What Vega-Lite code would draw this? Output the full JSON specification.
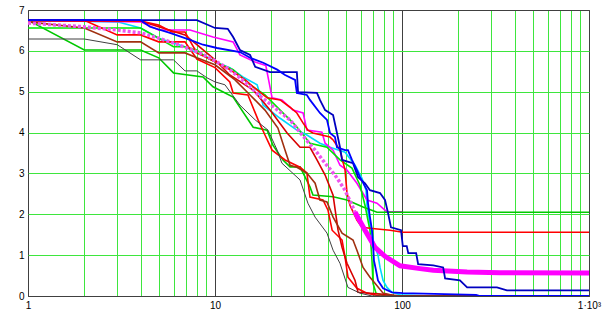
{
  "$schema": "https://vega.github.io/schema/vega-lite/v6.json",
  "width": 561,
  "height": 286,
  "autosize": "none",
  "padding": {"left": 28, "top": 10, "right": 15, "bottom": 20},
  "background": "white",
  "config": {"view": {"stroke": "#404040", "strokeWidth": 1}},
  "data": {"values": [
    {"s":"b1","x":1,"y":6.75},{"s":"b1","x":8,"y":6.75},{"s":"b1","x":10,"y":6.56},{"s":"b1","x":11.7,"y":6.54},{"s":"b1","x":12.5,"y":6.34},{"s":"b1","x":13.6,"y":6.02},{"s":"b1","x":15.4,"y":5.9},{"s":"b1","x":16.4,"y":5.61},{"s":"b1","x":19.7,"y":5.48},{"s":"b1","x":27.4,"y":5.48},{"s":"b1","x":27.8,"y":4.99},{"s":"b1","x":35.1,"y":4.97},{"s":"b1","x":36.4,"y":4.8},{"s":"b1","x":38.8,"y":4.55},{"s":"b1","x":42.8,"y":4.43},{"s":"b1","x":44.9,"y":3.99},{"s":"b1","x":46.6,"y":3.64},{"s":"b1","x":47.8,"y":3.33},{"s":"b1","x":54.7,"y":3.25},{"s":"b1","x":58.2,"y":2.91},{"s":"b1","x":63.4,"y":2.76},{"s":"b1","x":67.4,"y":2.59},{"s":"b1","x":76.3,"y":2.52},{"s":"b1","x":81.1,"y":2.35},{"s":"b1","x":84.2,"y":2.03},{"s":"b1","x":87.3,"y":1.68},{"s":"b1","x":98.8,"y":1.61},{"s":"b1","x":101,"y":1.22},{"s":"b1","x":106,"y":1.22},{"s":"b1","x":108,"y":1.05},{"s":"b1","x":119,"y":1.05},{"s":"b1","x":122,"y":0.78},{"s":"b1","x":147,"y":0.75},{"s":"b1","x":166,"y":0.7},{"s":"b1","x":170,"y":0.43},{"s":"b1","x":204,"y":0.38},{"s":"b1","x":223,"y":0.21},{"s":"b1","x":322,"y":0.21},{"s":"b1","x":364,"y":0.14},{"s":"b1","x":1000,"y":0.14},

    {"s":"b2","x":1,"y":6.75},{"s":"b2","x":4,"y":6.75},{"s":"b2","x":4.49,"y":6.59},{"s":"b2","x":5.74,"y":6.44},{"s":"b2","x":7.35,"y":6.27},{"s":"b2","x":8.63,"y":6.15},{"s":"b2","x":10.25,"y":6.07},{"s":"b2","x":13.6,"y":5.97},{"s":"b2","x":15.4,"y":5.83},{"s":"b2","x":18.1,"y":5.71},{"s":"b2","x":21.5,"y":5.54},{"s":"b2","x":23.7,"y":5.41},{"s":"b2","x":26.8,"y":5.29},{"s":"b2","x":27.4,"y":4.97},{"s":"b2","x":31,"y":4.92},{"s":"b2","x":32.2,"y":4.8},{"s":"b2","x":36.4,"y":4.48},{"s":"b2","x":39.7,"y":4.31},{"s":"b2","x":41.2,"y":3.99},{"s":"b2","x":43.8,"y":3.89},{"s":"b2","x":44.9,"y":3.64},{"s":"b2","x":49.6,"y":3.57},{"s":"b2","x":51.4,"y":3.57},{"s":"b2","x":54,"y":3.33},{"s":"b2","x":57.4,"y":3.08},{"s":"b2","x":59.6,"y":2.91},{"s":"b2","x":65,"y":2.59},{"s":"b2","x":65.8,"y":2.27},{"s":"b2","x":67.4,"y":1.93},{"s":"b2","x":69.1,"y":1.61},{"s":"b2","x":70,"y":1.29},{"s":"b2","x":70.8,"y":0.87},{"s":"b2","x":72.6,"y":0.63},{"s":"b2","x":74.4,"y":0.38},{"s":"b2","x":79.2,"y":0.19},{"s":"b2","x":88.4,"y":0.09},{"s":"b2","x":101,"y":0.07},{"s":"b2","x":249,"y":0.03},{"s":"b2","x":261,"y":0},{"s":"b2","x":1000,"y":0},

    {"s":"cy","x":1,"y":6.75},{"s":"cy","x":3,"y":6.71},{"s":"cy","x":4,"y":6.56},{"s":"cy","x":5,"y":6.31},{"s":"cy","x":6,"y":6.19},{"s":"cy","x":6.91,"y":6.1},{"s":"cy","x":8,"y":5.95},{"s":"cy","x":9.06,"y":5.85},{"s":"cy","x":10.25,"y":5.71},{"s":"cy","x":12,"y":5.59},{"s":"cy","x":14.1,"y":5.36},{"s":"cy","x":16.8,"y":5.17},{"s":"cy","x":18.1,"y":4.67},{"s":"cy","x":22.3,"y":4.35},{"s":"cy","x":27.4,"y":4.06},{"s":"cy","x":31,"y":3.94},{"s":"cy","x":36.4,"y":3.74},{"s":"cy","x":41.2,"y":3.64},{"s":"cy","x":49.6,"y":3.52},{"s":"cy","x":56.1,"y":3.2},{"s":"cy","x":61.1,"y":2.88},{"s":"cy","x":64.2,"y":2.59},{"s":"cy","x":65,"y":2.22},{"s":"cy","x":67.4,"y":1.78},{"s":"cy","x":70,"y":1.37},{"s":"cy","x":74.4,"y":1.0},{"s":"cy","x":76.3,"y":0.7},{"s":"cy","x":79.2,"y":0.38},{"s":"cy","x":83.1,"y":0.21},{"s":"cy","x":88.4,"y":0.09},{"s":"cy","x":97.6,"y":0.03},{"s":"cy","x":141,"y":0},{"s":"cy","x":1000,"y":0},

    {"s":"mthin","x":1,"y":6.75},{"s":"mthin","x":4,"y":6.71},{"s":"mthin","x":5,"y":6.51},{"s":"mthin","x":7.35,"y":6.51},{"s":"mthin","x":9.76,"y":6.34},{"s":"mthin","x":12.5,"y":6.22},{"s":"mthin","x":13.6,"y":5.9},{"s":"mthin","x":16.4,"y":5.73},{"s":"mthin","x":18.7,"y":5.64},{"s":"mthin","x":20.2,"y":4.85},{"s":"mthin","x":22.8,"y":4.8},{"s":"mthin","x":26.1,"y":4.55},{"s":"mthin","x":29.6,"y":4.48},{"s":"mthin","x":31,"y":4.06},{"s":"mthin","x":37.3,"y":4.01},{"s":"mthin","x":38.8,"y":3.74},{"s":"mthin","x":42.8,"y":3.57},{"s":"mthin","x":46.6,"y":3.2},{"s":"mthin","x":50.8,"y":3.08},{"s":"mthin","x":57.4,"y":2.76},{"s":"mthin","x":65,"y":2.35},{"s":"mthin","x":73.5,"y":2.27},{"s":"mthin","x":83.1,"y":2.06},{"s":"mthin","x":100,"y":2.06},

    {"s":"g2","x":1,"y":6.75},{"s":"g2","x":2,"y":6.02},{"s":"g2","x":4,"y":6.02},{"s":"g2","x":5,"y":5.83},{"s":"g2","x":6,"y":5.46},{"s":"g2","x":8.63,"y":5.36},{"s":"g2","x":9.76,"y":5.12},{"s":"g2","x":12.5,"y":4.87},{"s":"g2","x":16,"y":4.13},{"s":"g2","x":19,"y":4.06},{"s":"g2","x":20.4,"y":3.69},{"s":"g2","x":23.1,"y":3.33},{"s":"g2","x":25.2,"y":3.16},{"s":"g2","x":28.5,"y":3.16},{"s":"g2","x":32.2,"y":2.67},{"s":"g2","x":33.4,"y":2.47},{"s":"g2","x":42.8,"y":2.43},{"s":"g2","x":50.8,"y":2.35},{"s":"g2","x":61.9,"y":2.18},{"s":"g2","x":73.5,"y":2.05},{"s":"g2","x":1000,"y":2.05},

    {"s":"g1","x":1,"y":6.56},{"s":"g1","x":4,"y":6.56},{"s":"g1","x":5,"y":6.31},{"s":"g1","x":6,"y":6.1},{"s":"g1","x":6.91,"y":6.1},{"s":"g1","x":8,"y":6.02},{"s":"g1","x":9.06,"y":5.83},{"s":"g1","x":10.25,"y":5.71},{"s":"g1","x":12.5,"y":5.54},{"s":"g1","x":15.4,"y":5.17},{"s":"g1","x":18.5,"y":4.92},{"s":"g1","x":22.3,"y":4.55},{"s":"g1","x":26.8,"y":4.19},{"s":"g1","x":32.2,"y":3.74},{"s":"g1","x":39.7,"y":3.64},{"s":"g1","x":46.6,"y":3.33},{"s":"g1","x":54,"y":3.13},{"s":"g1","x":59.6,"y":2.71},{"s":"g1","x":63.4,"y":2.22},{"s":"g1","x":67.4,"y":1.61},{"s":"g1","x":69.1,"y":0.87},{"s":"g1","x":70,"y":0.31},{"s":"g1","x":72.6,"y":0.07},{"s":"g1","x":81.1,"y":0},{"s":"g1","x":1000,"y":0},

    {"s":"gray","x":1,"y":6.29},{"s":"gray","x":2,"y":6.29},{"s":"gray","x":3,"y":6.15},{"s":"gray","x":4,"y":5.78},{"s":"gray","x":6,"y":5.78},{"s":"gray","x":6.91,"y":5.51},{"s":"gray","x":8,"y":5.51},{"s":"gray","x":9.06,"y":5.34},{"s":"gray","x":10,"y":5.24},{"s":"gray","x":11.3,"y":5.17},{"s":"gray","x":13.6,"y":4.67},{"s":"gray","x":16.4,"y":4.31},{"s":"gray","x":19.2,"y":4.06},{"s":"gray","x":21.5,"y":3.57},{"s":"gray","x":22.8,"y":3.25},{"s":"gray","x":28.5,"y":2.84},{"s":"gray","x":31.4,"y":2.27},{"s":"gray","x":34.3,"y":1.93},{"s":"gray","x":39.7,"y":1.54},{"s":"gray","x":42.8,"y":1.12},{"s":"gray","x":46.6,"y":0.8},{"s":"gray","x":51.4,"y":0.21},{"s":"gray","x":59.6,"y":0.07},{"s":"gray","x":69.1,"y":0},{"s":"gray","x":1000,"y":0},

    {"s":"rA","x":1,"y":6.75},{"s":"rA","x":2,"y":6.75},{"s":"rA","x":3,"y":6.39},{"s":"rA","x":4,"y":6.39},{"s":"rA","x":5,"y":6.22},{"s":"rA","x":6.91,"y":6.22},{"s":"rA","x":8,"y":5.8},{"s":"rA","x":10,"y":5.59},{"s":"rA","x":12,"y":5.24},{"s":"rA","x":12.5,"y":4.97},{"s":"rA","x":15,"y":4.92},{"s":"rA","x":17,"y":4.31},{"s":"rA","x":18.5,"y":3.94},{"s":"rA","x":20.2,"y":3.57},{"s":"rA","x":23.7,"y":3.33},{"s":"rA","x":28.5,"y":3.15},{"s":"rA","x":31,"y":3.01},{"s":"rA","x":32.2,"y":2.42},{"s":"rA","x":37.8,"y":2.35},{"s":"rA","x":40.2,"y":2.1},{"s":"rA","x":42.3,"y":1.61},{"s":"rA","x":47.8,"y":1.37},{"s":"rA","x":49.6,"y":0.95},{"s":"rA","x":51.4,"y":0.46},{"s":"rA","x":57.4,"y":0.19},{"s":"rA","x":65,"y":0.07},{"s":"rA","x":76.3,"y":0},{"s":"rA","x":1000,"y":0},

    {"s":"rB","x":1,"y":6.73},{"s":"rB","x":4,"y":6.73},{"s":"rB","x":5,"y":6.59},{"s":"rB","x":6.91,"y":6.39},{"s":"rB","x":8,"y":6.15},{"s":"rB","x":10,"y":5.78},{"s":"rB","x":12,"y":5.41},{"s":"rB","x":16,"y":5.04},{"s":"rB","x":19.7,"y":4.55},{"s":"rB","x":24.3,"y":3.99},{"s":"rB","x":28.5,"y":3.64},{"s":"rB","x":32.2,"y":3.64},{"s":"rB","x":35.1,"y":3.33},{"s":"rB","x":38.8,"y":2.96},{"s":"rB","x":42.8,"y":2.47},{"s":"rB","x":45.5,"y":1.61},{"s":"rB","x":47.8,"y":1.19},{"s":"rB","x":50.8,"y":0.8},{"s":"rB","x":56.1,"y":0.38},{"s":"rB","x":58.2,"y":0.09},{"s":"rB","x":86.3,"y":0.03},{"s":"rB","x":97.6,"y":0},{"s":"rB","x":1000,"y":0},

    {"s":"r155","x":1,"y":6.75},{"s":"r155","x":4,"y":6.73},{"s":"r155","x":5,"y":6.63},{"s":"r155","x":5.89,"y":6.46},{"s":"r155","x":6.91,"y":6.46},{"s":"r155","x":8,"y":5.95},{"s":"r155","x":9.06,"y":5.83},{"s":"r155","x":10,"y":5.73},{"s":"r155","x":12,"y":5.54},{"s":"r155","x":14.5,"y":5.29},{"s":"r155","x":16,"y":5.12},{"s":"r155","x":19,"y":4.85},{"s":"r155","x":22.3,"y":4.8},{"s":"r155","x":25.2,"y":4.62},{"s":"r155","x":27.4,"y":4.48},{"s":"r155","x":29.6,"y":4.23},{"s":"r155","x":31.4,"y":4.06},{"s":"r155","x":33.4,"y":3.99},{"s":"r155","x":41.2,"y":3.89},{"s":"r155","x":42.8,"y":3.82},{"s":"r155","x":46.6,"y":3.57},{"s":"r155","x":49.6,"y":3.08},{"s":"r155","x":50.8,"y":2.52},{"s":"r155","x":52.7,"y":2.22},{"s":"r155","x":57.4,"y":1.86},{"s":"r155","x":61.1,"y":1.68},{"s":"r155","x":67.4,"y":1.66},{"s":"r155","x":86.3,"y":1.61},{"s":"r155","x":101,"y":1.56},{"s":"r155","x":1000,"y":1.56},

    {"s":"br","x":1,"y":6.71},{"s":"br","x":2,"y":6.56},{"s":"br","x":3,"y":6.22},{"s":"br","x":4,"y":6.22},{"s":"br","x":5,"y":5.95},{"s":"br","x":6.91,"y":5.95},{"s":"br","x":8,"y":5.83},{"s":"br","x":10,"y":5.66},{"s":"br","x":12.8,"y":5.29},{"s":"br","x":15.4,"y":4.92},{"s":"br","x":18.5,"y":4.55},{"s":"br","x":21.7,"y":4.11},{"s":"br","x":23.7,"y":3.57},{"s":"br","x":25.2,"y":3.2},{"s":"br","x":27.4,"y":3.15},{"s":"br","x":31,"y":3.01},{"s":"br","x":34.3,"y":2.76},{"s":"br","x":36.4,"y":2.35},{"s":"br","x":39.7,"y":2.3},{"s":"br","x":42.8,"y":1.93},{"s":"br","x":47.8,"y":1.54},{"s":"br","x":54.7,"y":1.37},{"s":"br","x":57.4,"y":1.12},{"s":"br","x":61.9,"y":0.7},{"s":"br","x":67.4,"y":0.46},{"s":"br","x":71.7,"y":0.31},{"s":"br","x":79.2,"y":0.07},{"s":"br","x":91.7,"y":0},{"s":"br","x":1000,"y":0},

    {"s":"mdot","x":1,"y":6.68},{"s":"mdot","x":1.98,"y":6.59},{"s":"mdot","x":3,"y":6.51},{"s":"mdot","x":4,"y":6.44},{"s":"mdot","x":5,"y":6.31},{"s":"mdot","x":6,"y":6.19},{"s":"mdot","x":7.09,"y":6.07},{"s":"mdot","x":8.31,"y":5.95},{"s":"mdot","x":10,"y":5.76},{"s":"mdot","x":12,"y":5.54},{"s":"mdot","x":13.6,"y":5.34},{"s":"mdot","x":15.4,"y":5.12},{"s":"mdot","x":17.4,"y":4.89},{"s":"mdot","x":19.7,"y":4.7},{"s":"mdot","x":22.3,"y":4.5},{"s":"mdot","x":25.2,"y":4.31},{"s":"mdot","x":29.6,"y":3.91},{"s":"mdot","x":34.3,"y":3.57},{"s":"mdot","x":38.8,"y":3.25},{"s":"mdot","x":43.8,"y":2.96},{"s":"mdot","x":49.6,"y":2.59},{"s":"mdot","x":56.1,"y":2.05},{"s":"mdot","x":63.4,"y":1.61},

    {"s":"mthick","x":56.1,"y":2.05},{"s":"mthick","x":63.4,"y":1.61},{"s":"mthick","x":71.7,"y":1.19},{"s":"mthick","x":81.1,"y":0.97},{"s":"mthick","x":97.6,"y":0.74},{"s":"mthick","x":125,"y":0.67},{"s":"mthick","x":147,"y":0.63},{"s":"mthick","x":223,"y":0.59},{"s":"mthick","x":334,"y":0.57},{"s":"mthick","x":1000,"y":0.56}
  ]},
  "encoding": {
    "x": {
      "field": "x", "type": "quantitative",
      "scale": {"type": "log", "domain": [1, 1000], "nice": false},
      "axis": {
        "title": null,
        "values": [1,2,3,4,5,6,7,8,9,10,20,30,40,50,60,70,80,90,100,200,300,400,500,600,700,800,900,1000],
        "grid": true,
        "gridColor": {"condition": {"test": "datum.value == 1 || datum.value == 10 || datum.value == 100 || datum.value == 1000", "value": "#404040"}, "value": "#3ee63e"},
        "gridWidth": 1,
        "gridOpacity": 1,
        "ticks": false,
        "domain": false,
        "labelExpr": "datum.value == 1 ? '1' : datum.value == 10 ? '10' : datum.value == 100 ? '100' : datum.value == 1000 ? '1·10³' : ''",
        "labelFont": "Liberation Sans",
        "labelFontSize": 10,
        "labelColor": "#000000",
        "labelPadding": 4,
        "labelOverlap": false,
        "labelBound": false,
        "labelFlush": false
      }
    },
    "y": {
      "field": "y", "type": "quantitative",
      "scale": {"domain": [0, 7], "nice": false, "zero": false},
      "axis": {
        "title": null,
        "values": [0,1,2,3,4,5,6,7],
        "grid": true,
        "gridColor": {"condition": {"test": "datum.value == 0 || datum.value == 7", "value": "#404040"}, "value": "#3ee63e"},
        "gridOpacity": 1,
        "ticks": false,
        "domain": false,
        "labelFont": "Liberation Sans",
        "labelFontSize": 10,
        "labelColor": "#000000",
        "labelPadding": 4
      }
    },
    "color": {
      "field": "s", "type": "nominal", "legend": null,
      "scale": {
        "domain": ["g2","g1","gray","br","rA","rB","r155","cy","mthin","mdot","mthick","b2","b1"],
        "range": ["#00c800","#00e600","#404040","#a03010","#ff0000","#d80000","#ff0000","#00d8ff","#ff00ff","#ee55ee","#ff00ff","#0000ff","#0000c0"]
      }
    },
    "order": {"field": "x", "type": "quantitative"}
  },
  "layer": [
    {
      "transform": [{"filter": {"field": "s", "oneOf": ["g2","g1","br","rA","rB","r155","cy","mthin"]}}],
      "mark": {"type": "line", "clip": true, "strokeWidth": 1.6}
    },
    {
      "transform": [{"filter": {"field": "s", "equal": "gray"}}],
      "mark": {"type": "line", "clip": true, "strokeWidth": 1}
    },
    {
      "transform": [{"filter": {"field": "s", "equal": "mdot"}}],
      "mark": {"type": "line", "clip": true, "strokeWidth": 3.5, "strokeDash": [3, 2]}
    },
    {
      "transform": [{"filter": {"field": "s", "equal": "mthick"}}],
      "mark": {"type": "line", "clip": true, "strokeWidth": 5}
    },
    {
      "transform": [{"filter": {"field": "s", "oneOf": ["b2","b1"]}}],
      "mark": {"type": "line", "clip": true, "strokeWidth": 1.8}
    }
  ]
}
